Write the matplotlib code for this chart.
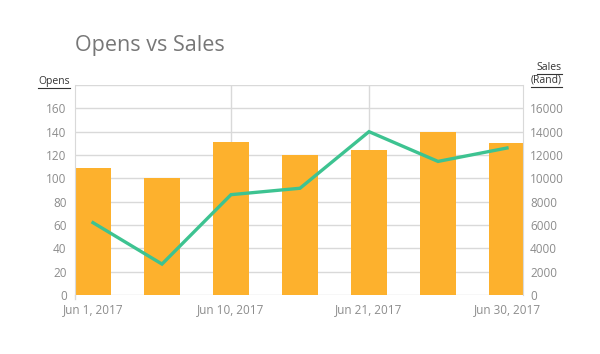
import matplotlib
matplotlib.use("Agg")
import matplotlib.pyplot as plt
from matplotlib.lines import Line2D

plt.rcParams['font.family'] = ['Open Sans', 'DejaVu Sans']

# ---- data ----
dates = ["Jun 1, 2017", "Jun 5, 2017", "Jun 10, 2017", "Jun 15, 2017",
         "Jun 21, 2017", "Jun 25, 2017", "Jun 30, 2017"]
opens = [109, 100, 131, 120, 124, 140, 130]
sales = [6200, 2650, 8600, 9150, 14000, 11450, 12600]
tick_labels = ["Jun 1, 2017", "Jun 10, 2017", "Jun 21, 2017", "Jun 30, 2017"]
tick_idx = [0, 2, 4, 6]
left_ticks = [0, 20, 40, 60, 80, 100, 120, 140, 160]
right_ticks = [0, 2000, 4000, 6000, 8000, 10000, 12000, 14000, 16000]

BAR = "#FDB12D"
LINE = "#3DC391"
GRID = "#D9D9D9"
TXT = "#8C8C8C"

fig = plt.figure(figsize=(6.0, 3.54), dpi=100)
ax = fig.add_axes([75/600, 1-295/354, (523-75)/600, (295-85)/354])
ax2 = ax.twinx()

x = list(range(len(dates)))
ax.bar(x, opens, width=0.536, color=BAR, zorder=2)
ax2.plot(x, sales, color=LINE, lw=2.4, zorder=3, solid_joinstyle='miter')

ax.set_xlim(-0.261, 6.232)
ax.set_ylim(0, 180)
ax2.set_ylim(0, 18000)

ax.set_yticks(left_ticks)
ax2.set_yticks(right_ticks)
ax.set_yticklabels([str(v) for v in left_ticks])
ax2.set_yticklabels([str(v) for v in right_ticks])

for v in left_ticks + [180]:
    ax.axhline(v, color=GRID, lw=1.0, zorder=1)
for xi in [2, 4]:
    ax.axvline(xi, color=GRID, lw=1.0, zorder=1)

ax.set_xticks(tick_idx)
ax.set_xticklabels(tick_labels)

for a in (ax, ax2):
    for s in a.spines.values():
        s.set_visible(False)
    a.tick_params(length=0, colors=TXT, labelsize=8.5)
ax.spines['left'].set_visible(True)
ax.spines['left'].set_color(GRID)
ax.spines['right'].set_visible(True)
ax.spines['right'].set_color(GRID)
ax.tick_params(axis='y', pad=6)
ax2.tick_params(axis='y', pad=5)
ax.tick_params(axis='x', pad=6)

ax.set_zorder(1)
ax2.set_zorder(2)
ax.patch.set_visible(False)

fig.text(75/600, 1-45/354, "Opens vs Sales", fontsize=15.5, color="#777777",
         ha='left', va='center')

inv = fig.transFigure.inverted()

def underline(tt, off):
    fig.canvas.draw()
    bb = tt.get_window_extent()
    (x0, y0), (x1, _) = inv.transform([(bb.x0, bb.y0 - off), (bb.x1, bb.y0 - off)])
    fig.add_artist(Line2D([x0, x1], [y0, y0], color="#333333", lw=0.8,
                          transform=fig.transFigure))

t0 = fig.text(70/600, 1-84/354, "Opens", fontsize=7.5, color="#333333", ha='right', va='baseline')
underline(t0, 1.0)
t1 = fig.text(562/600, 1-69.5/354, "Sales", fontsize=7.5, color="#333333", ha='right', va='baseline')
underline(t1, 1.2)
t2 = fig.text(562/600, 1-83/354, "(Rand)", fontsize=7.5, color="#333333", ha='right', va='baseline')
underline(t2, 0.5)

fig.add_artist(Line2D([75/600, 75/600], [1-295/354, 1-299/354], color=GRID, lw=1.0,
                      transform=fig.transFigure))

fig.savefig("out.png", dpi=100)
